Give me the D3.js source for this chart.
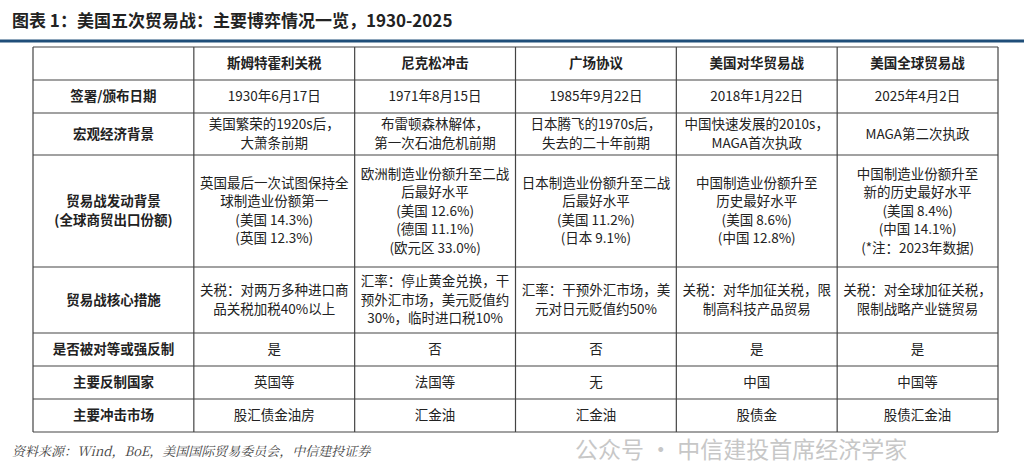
<!DOCTYPE html><html><head><meta charset="utf-8">
<script src="https://cdn.jsdelivr.net/npm/d3@7"></script>
<style>body{margin:0;background:#fff}svg{display:block}</style></head><body>
<svg id="c" width="1024" height="470"></svg>
<script>
const title = "图表 1：美国五次贸易战：主要博弈情况一览，1930-2025";
const source = "资料来源：Wind，BoE，美国国际贸易委员会，中信建投证券";
const columns = ["斯姆特霍利关税","尼克松冲击","广场协议","美国对华贸易战","美国全球贸易战"];
const rowLabels = [["签署/颁布日期"],["宏观经济背景"],["贸易战发动背景","(全球商贸出口份额)"],["贸易战核心措施"],["是否被对等或强反制"],["主要反制国家"],["主要冲击市场"]];
const dates = ["1930年6月17日","1971年8月15日","1985年9月22日","2018年1月22日","2025年4月2日"];
const macro = [["美国繁荣的1920s后，","大萧条前期"],["布雷顿森林解体，","第一次石油危机前期"],["日本腾飞的1970s后，","失去的二十年前期"],["中国快速发展的2010s，","MAGA首次执政"],["MAGA第二次执政"]];
const shares = [["英国最后一次试图保持全","球制造业份额第一","(美国 14.3%)","(英国 12.3%)"],["欧洲制造业份额升至二战","后最好水平","(美国 12.6%)","(德国 11.1%)","(欧元区 33.0%)"],["日本制造业份额升至二战","后最好水平","(美国 11.2%)","(日本 9.1%)"],["中国制造业份额升至","历史最好水平","(美国 8.6%)","(中国 12.8%)"],["中国制造业份额升至","新的历史最好水平","(美国 8.4%)","(中国 14.1%)","(*注：2023年数据)"]];
const measures = [["关税：对两万多种进口商","品关税加税40%以上"],["汇率：停止黄金兑换，干","预外汇市场，美元贬值约","30%，临时进口税10%"],["汇率：干预外汇市场，美","元对日元贬值约50%"],["关税：对华加征关税，限","制高科技产品贸易"],["关税：对全球加征关税，","限制战略产业链贸易"]];
const retaliated = ["是","否","否","是","是"];
const countries = ["英国等","法国等","无","中国","中国等"];
const markets = ["股汇债金油房","汇金油","汇金油","股债金","股债汇金油"];
const bodyRows = [dates.map(d=>[d]), macro, shares, measures, retaliated.map(d=>[d]), countries.map(d=>[d]), markets.map(d=>[d])];
const rowBounds = [47,80,113,155,267,333,366,399,432];

const svg = d3.select("#c");
const F = "'Noto Sans CJK SC','Noto Sans',sans-serif";
svg.append("text").attr("x",12).attr("y",27).attr("font-family",F).attr("font-size",17).attr("font-weight","bold").attr("fill","#222").text(title);
svg.append("line").attr("x1",0).attr("x2",1024).attr("y1",41).attr("y2",41).attr("stroke","#1f4e79").attr("stroke-width",3);

const x = d3.scaleBand().domain(["label",...columns]).range([33,998]).paddingInner(0);
const g = svg.append("g");
const xs = x.domain().map(d=>x(d)).concat([998]);
xs.forEach(v=>g.append("line").attr("x1",v).attr("x2",v).attr("y1",rowBounds[0]).attr("y2",rowBounds[8]).attr("stroke","#444").attr("stroke-width",1.2));
rowBounds.forEach(v=>g.append("line").attr("x1",33).attr("x2",998).attr("y1",v).attr("y2",v).attr("stroke","#444").attr("stroke-width",1.2));

function cell(cx, y0, y1, lines, bold){
  const lh=18.5, mid=(y0+y1)/2, top=mid-(lines.length-1)*lh/2;
  lines.forEach((t,i)=>g.append("text").attr("x",cx).attr("y",top+i*lh).attr("dy","0.35em")
    .attr("text-anchor","middle").attr("font-family",F).attr("font-size",13.5)
    .attr("font-weight",bold?"bold":"normal").attr("fill","#222").text(t));
}
columns.forEach(c=>cell(x(c)+x.bandwidth()/2,rowBounds[0],rowBounds[1],[c],true));
rowLabels.forEach((l,i)=>cell(x("label")+x.bandwidth()/2,rowBounds[i+1],rowBounds[i+2],l,true));
bodyRows.forEach((row,i)=>row.forEach((lines,j)=>cell(x(columns[j])+x.bandwidth()/2,rowBounds[i+1],rowBounds[i+2],lines,false)));

svg.append("text").attr("x",575).attr("y",458).attr("font-family",F).attr("font-size",23).attr("fill","#9a9a9a").attr("opacity",0.55).text("公众号 · 中信建投首席经济学家");
svg.append("text").attr("x",12).attr("y",456).attr("font-family","'Noto Serif CJK SC','Noto Sans CJK SC',serif").attr("font-style","italic").attr("font-size",13).attr("fill","#444").text(source);
</script></body></html>
